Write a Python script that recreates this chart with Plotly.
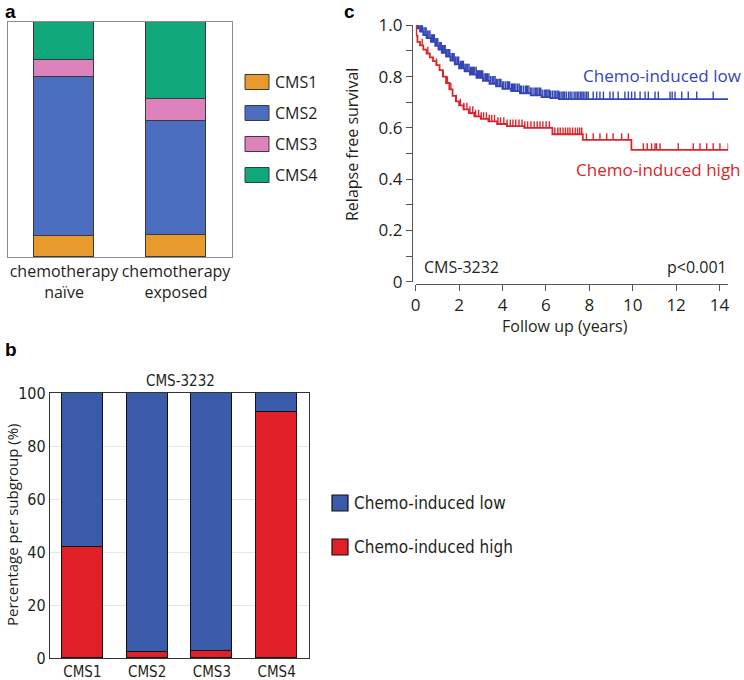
import numpy as np
import plotly.graph_objects as go

W, H = 744, 680

# ---------------- Panel a data ----------------
groups_a = ["chemotherapy<br>naïve", "chemotherapy<br>exposed"]
cms_names = ["CMS1", "CMS2", "CMS3", "CMS4"]
cms1_pct = [9.0, 9.4]
cms2_pct = [67.7, 48.5]
cms3_pct = [7.2, 9.4]
cms4_pct = [16.1, 32.7]
cms_colors = ["#E99A2C", "#4B6DC0", "#DE82BD", "#10A87A"]

# ---------------- Panel b data ----------------
subtypes_b = ["CMS1", "CMS2", "CMS3", "CMS4"]
high_pct = [42.0, 2.4, 2.8, 93.0]
low_pct = [58.0, 97.6, 97.2, 7.0]
b_names = ["Chemo-induced low", "Chemo-induced high"]
b_colors = ["#3A5BAA", "#E01F26"]
b_title = "CMS-3232"

# ---------------- Panel c data ----------------
low_time = [0, 0.08, 0.2, 0.35, 0.5, 0.7, 0.9, 1.05, 1.2, 1.4, 1.6, 1.8, 2.0, 2.25,
            2.5, 2.8, 3.1, 3.4, 3.7, 4.0, 4.4, 4.8, 5.3, 5.8, 6.2, 6.6]
low_surv = [1.0, 0.988, 0.975, 0.962, 0.95, 0.935, 0.92, 0.905, 0.893, 0.878, 0.862,
            0.848, 0.832, 0.82, 0.808, 0.795, 0.783, 0.772, 0.762, 0.752, 0.743, 0.735,
            0.727, 0.72, 0.716, 0.712]
low_censor = [0.05, 0.09, 0.12, 0.16, 0.22, 0.27, 0.31, 0.38, 0.44, 0.48, 0.55, 0.61, 0.66,
              0.73, 0.78, 0.82, 0.86, 0.93, 0.97, 1.02, 1.08, 1.13, 1.18, 1.23, 1.27, 1.32,
              1.36, 1.41, 1.45, 1.52, 1.57, 1.63, 1.7, 1.74, 1.77, 1.82, 1.86, 1.93, 1.98,
              2.06, 2.12, 2.16, 2.2, 2.27, 2.31, 2.36, 2.4, 2.46, 2.52, 2.58, 2.62, 2.66,
              2.72, 2.79, 2.85, 2.89, 2.93, 2.98, 3.04, 3.09, 3.15, 3.22, 3.26, 3.3, 3.37,
              3.44, 3.52, 3.56, 3.6, 3.66, 3.72, 3.78, 3.85, 3.89, 3.93, 4.0, 4.06, 4.14,
              4.22, 4.27, 4.33, 4.41, 4.46, 4.5, 4.56, 4.62, 4.7, 4.77, 4.83, 4.88, 4.97,
              5.06, 5.1, 5.15, 5.22, 5.3, 5.36, 5.45, 5.52, 5.58, 5.63, 5.7, 5.76, 5.83,
              5.92, 5.98, 6.04, 6.1, 6.16, 6.22, 6.3, 6.38, 6.45, 6.52, 6.58, 6.63, 6.7,
              6.78, 6.83, 6.87, 6.95, 7.05, 7.12, 7.2, 7.3, 7.38, 7.45, 7.52, 7.6, 7.66,
              7.72, 7.8, 7.88, 7.95, 8.18, 8.34, 8.49, 8.65, 8.95, 9.1, 9.33, 9.64, 9.8,
              9.95, 10.1, 10.34, 10.57, 10.72, 11.03, 11.18, 11.72, 11.82, 11.95, 12.26,
              12.56, 12.95, 13.71]
high_time = [0, 0.03, 0.08, 0.2, 0.35, 0.5, 0.65, 0.8, 0.95, 1.1, 1.25, 1.4, 1.55, 1.7,
             1.85, 2.0, 2.2, 2.45, 2.7, 3.0, 3.35, 3.75, 4.2, 5.0, 6.3, 7.7, 9.94]
high_surv = [1.0, 0.96, 0.935, 0.922, 0.905, 0.89, 0.875, 0.86, 0.845, 0.825, 0.80, 0.775,
             0.75, 0.725, 0.703, 0.688, 0.672, 0.658, 0.645, 0.635, 0.625, 0.615, 0.607,
             0.6, 0.575, 0.553, 0.514]
high_censor = [0.3, 0.56, 0.96, 1.27, 1.46, 1.62, 1.87, 2.06, 2.22, 2.36, 2.5, 2.63, 2.76,
               2.9, 3.02, 3.13, 3.26, 3.39, 3.5, 3.63, 3.79, 3.91, 4.06, 4.21, 4.36, 4.48,
               4.61, 4.76, 4.9, 5.03, 5.16, 5.31, 5.46, 5.6, 5.73, 5.86, 6.01, 6.16, 6.41,
               6.55, 6.66, 6.79, 6.9, 7.01, 7.11, 7.23, 7.35, 7.46, 7.56, 7.65, 7.87, 8.18,
               8.49, 8.8, 9.1, 9.49, 9.8, 10.49, 10.67, 10.87, 11.03, 11.1, 11.26, 12.1,
               12.79, 13.1, 13.41, 13.71, 14.02, 14.4]
follow_end = 14.4
km_names = ["Chemo-induced low", "Chemo-induced high"]
km_colors = ["#3446B4", "#D9252B"]
y_ticks_c = [0, 0.1, 0.2, 0.3, 0.4, 0.5, 0.6, 0.7, 0.8, 0.9, 1.0]
y_ticklabels_c = ["0", "", "0.2", "", "0.4", "", "0.6", "", "0.8", "", "1.0"]
x_ticks_c = [0, 2, 4, 6, 8, 10, 12, 14]

# ---------------- helpers ----------------
def px(x):
    return x / W


def py(y):
    return 1 - y / H


FONT = "Open Sans, Noto Sans, sans-serif"
NARROW = "Liberation Sans Narrow, Arial Narrow, DejaVu Sans Condensed, sans-serif"
TXT = "#231F20"

fig = go.Figure()

# Panel a bars
for name, vals, col in zip(cms_names, [cms1_pct, cms2_pct, cms3_pct, cms4_pct], cms_colors):
    fig.add_trace(go.Bar(x=groups_a, y=vals, name=name, marker=dict(color=col, line=dict(color="#3a3a3a", width=1)),
                         width=0.527, xaxis="x", yaxis="y", showlegend=False))

# Panel b bars (high at bottom)
fig.add_trace(go.Bar(x=subtypes_b, y=high_pct, name=b_names[1],
                     marker=dict(color=b_colors[1], line=dict(color="#111", width=1.3)),
                     width=0.633, xaxis="x2", yaxis="y2", showlegend=False))
fig.add_trace(go.Bar(x=subtypes_b, y=low_pct, name=b_names[0],
                     marker=dict(color=b_colors[0], line=dict(color="#111", width=1.3)),
                     width=0.633, xaxis="x2", yaxis="y2", showlegend=False))


# Panel c KM curves
def step_value(times, surv, t):
    idx = np.searchsorted(np.array(times), np.array(t), side="right") - 1
    return np.array(surv)[idx]


for times, surv, cens, col, nm, th in [
    (low_time, low_surv, low_censor, km_colors[0], km_names[0], 0.03),
    (high_time, high_surv, high_censor, km_colors[1], km_names[1], 0.026),
]:
    xs = list(times) + [follow_end]
    ys = list(surv) + [surv[-1]]
    fig.add_trace(go.Scatter(x=xs, y=ys, mode="lines", line=dict(color=col, width=1.8, shape="hv"),
                             name=nm, xaxis="x3", yaxis="y3", showlegend=False))
    cy = step_value(times, surv, cens)
    fig.add_trace(go.Scatter(x=cens, y=cy, mode="markers",
                             marker=dict(size=1, color="rgba(0,0,0,0)"),
                             error_y=dict(type="data", symmetric=False, array=[th] * len(cens),
                                          arrayminus=[0] * len(cens), width=0, thickness=1.4, color=col),
                             xaxis="x3", yaxis="y3", showlegend=False, hoverinfo="skip", cliponaxis=False))

shapes = []
annotations = []

# Panel a legend
a_leg_y = [82, 113, 144, 175]
for name, col, yc in zip(cms_names, cms_colors, a_leg_y):
    shapes.append(dict(type="rect", xref="paper", yref="paper", x0=px(245), x1=px(269),
                       y0=py(yc + 7.5), y1=py(yc - 7.5), fillcolor=col, line=dict(color="#3a3a3a", width=1)))
    annotations.append(dict(text=name, xref="paper", yref="paper", x=px(273), y=py(yc), xanchor="left",
                            yanchor="middle", showarrow=False, font=dict(family=FONT, size=16, color=TXT)))

# Panel b legend
b_leg_y = [503, 547]
for name, col, yc in zip(b_names, b_colors, b_leg_y):
    shapes.append(dict(type="rect", xref="paper", yref="paper", x0=px(332), x1=px(348),
                       y0=py(yc + 8), y1=py(yc - 8), fillcolor=col, line=dict(color="#111", width=1.2)))
    annotations.append(dict(text=name, xref="paper", yref="paper", x=px(352), y=py(yc), xanchor="left",
                            yanchor="middle", showarrow=False, font=dict(family=NARROW, size=17, color=TXT)))

# Panel labels
for lab, x, y in [("a", 3, 11), ("b", 3, 350), ("c", 342, 11)]:
    annotations.append(dict(text="<b>%s</b>" % lab, xref="paper", yref="paper", x=px(x), y=py(y),
                            xanchor="left", yanchor="middle", showarrow=False,
                            font=dict(family="Liberation Sans, Arial, sans-serif", size=19, color="#000")))

# Panel b title and y title
annotations.append(dict(text=b_title, xref="paper", yref="paper", x=px(180), y=py(381), xanchor="center",
                        yanchor="middle", showarrow=False, font=dict(family=NARROW, size=15, color=TXT)))
annotations.append(dict(text="Percentage per subgroup (%)", xref="paper", yref="paper", x=px(12), y=py(525),
                        xanchor="center", yanchor="middle", textangle=-90, showarrow=False,
                        font=dict(family=FONT, size=15, color=TXT)))

# Panel c texts
annotations += [
    dict(text=km_names[0], xref="paper", yref="paper", x=px(743), y=py(75), xanchor="right", yanchor="middle",
         showarrow=False, font=dict(family=FONT, size=17, color=km_colors[0])),
    dict(text=km_names[1], xref="paper", yref="paper", x=px(743), y=py(169), xanchor="right", yanchor="middle",
         showarrow=False, font=dict(family=FONT, size=17, color=km_colors[1])),
    dict(text="CMS-3232", xref="paper", yref="paper", x=px(422), y=py(267), xanchor="left", yanchor="middle",
         showarrow=False, font=dict(family=FONT, size=16, color=TXT)),
    dict(text="p&lt;0.001", xref="paper", yref="paper", x=px(729), y=py(267), xanchor="right", yanchor="middle",
         showarrow=False, font=dict(family=FONT, size=16, color=TXT)),
    dict(text="Relapse free survival", xref="paper", yref="paper", x=px(352), y=py(145), xanchor="center",
         yanchor="middle", textangle=-90, showarrow=False, font=dict(family=FONT, size=16, color=TXT)),
    dict(text="Follow up (years)", xref="paper", yref="paper", x=px(565), y=py(326), xanchor="center",
         yanchor="middle", showarrow=False, font=dict(family=FONT, size=16, color=TXT)),
]

fig.update_layout(
    width=W, height=H, margin=dict(l=0, r=0, t=0, b=0, autoexpand=False),
    paper_bgcolor="white", plot_bgcolor="white", barmode="stack", bargap=0,
    shapes=shapes, annotations=annotations,
    xaxis=dict(domain=[px(8), px(232)], anchor="y", type="category", range=[-0.5, 1.5], automargin=False,
               showline=True, mirror=True, linecolor="#8c8c8c", linewidth=1.3, ticks="", tickangle=0,
               tickfont=dict(family=FONT, size=16, color=TXT), showgrid=False),
    yaxis=dict(domain=[py(257), py(22)], anchor="x", range=[0, 100], showticklabels=False, automargin=False,
               showline=True, mirror=True, linecolor="#8c8c8c", linewidth=1.3, ticks="",
               showgrid=False, zeroline=False),
    xaxis2=dict(domain=[px(50), px(309)], anchor="y2", type="category", range=[-0.5, 3.5], automargin=False,
                showline=True, mirror=True, linecolor="#333", linewidth=1.3, ticks="", tickangle=0,
                tickfont=dict(family=NARROW, size=15, color=TXT), showgrid=False),
    yaxis2=dict(domain=[py(658), py(393)], anchor="x2", range=[0, 100], tickvals=[0, 20, 40, 60, 80, 100],
                showline=True, mirror=True, linecolor="#333", linewidth=1.3, ticks="", automargin=False,
                tickfont=dict(family=NARROW, size=16, color=TXT), showgrid=True, gridcolor="#e6e6e6",
                gridwidth=1.2, zeroline=False),
    xaxis3=dict(domain=[px(415.7), px(415.7 + 14.4 * 21.7)], anchor="free", position=py(283.5),
                range=[0, follow_end], tickvals=x_ticks_c, ticks="outside", ticklen=6, tickwidth=1.2,
                tickcolor="#555", showline=True, linecolor="#555", linewidth=1.2, showgrid=False,
                zeroline=False, automargin=False, tickangle=0, tickfont=dict(family=FONT, size=17, color=TXT)),
    yaxis3=dict(domain=[py(281.7), py(25.3)], anchor="free", position=px(412), range=[0, 1],
                tickvals=y_ticks_c, ticktext=y_ticklabels_c, ticks="outside", ticklen=6, tickwidth=1.2,
                tickcolor="#555", showline=True, linecolor="#555", linewidth=1.2, showgrid=False,
                zeroline=False, automargin=False, tickfont=dict(family=FONT, size=17, color=TXT)),
)

fig.write_html("out.html", config={"displayModeBar": False},
               post_script="document.body.style.margin='0';document.body.style.padding='0';"
                           "document.body.style.overflow='hidden';")
